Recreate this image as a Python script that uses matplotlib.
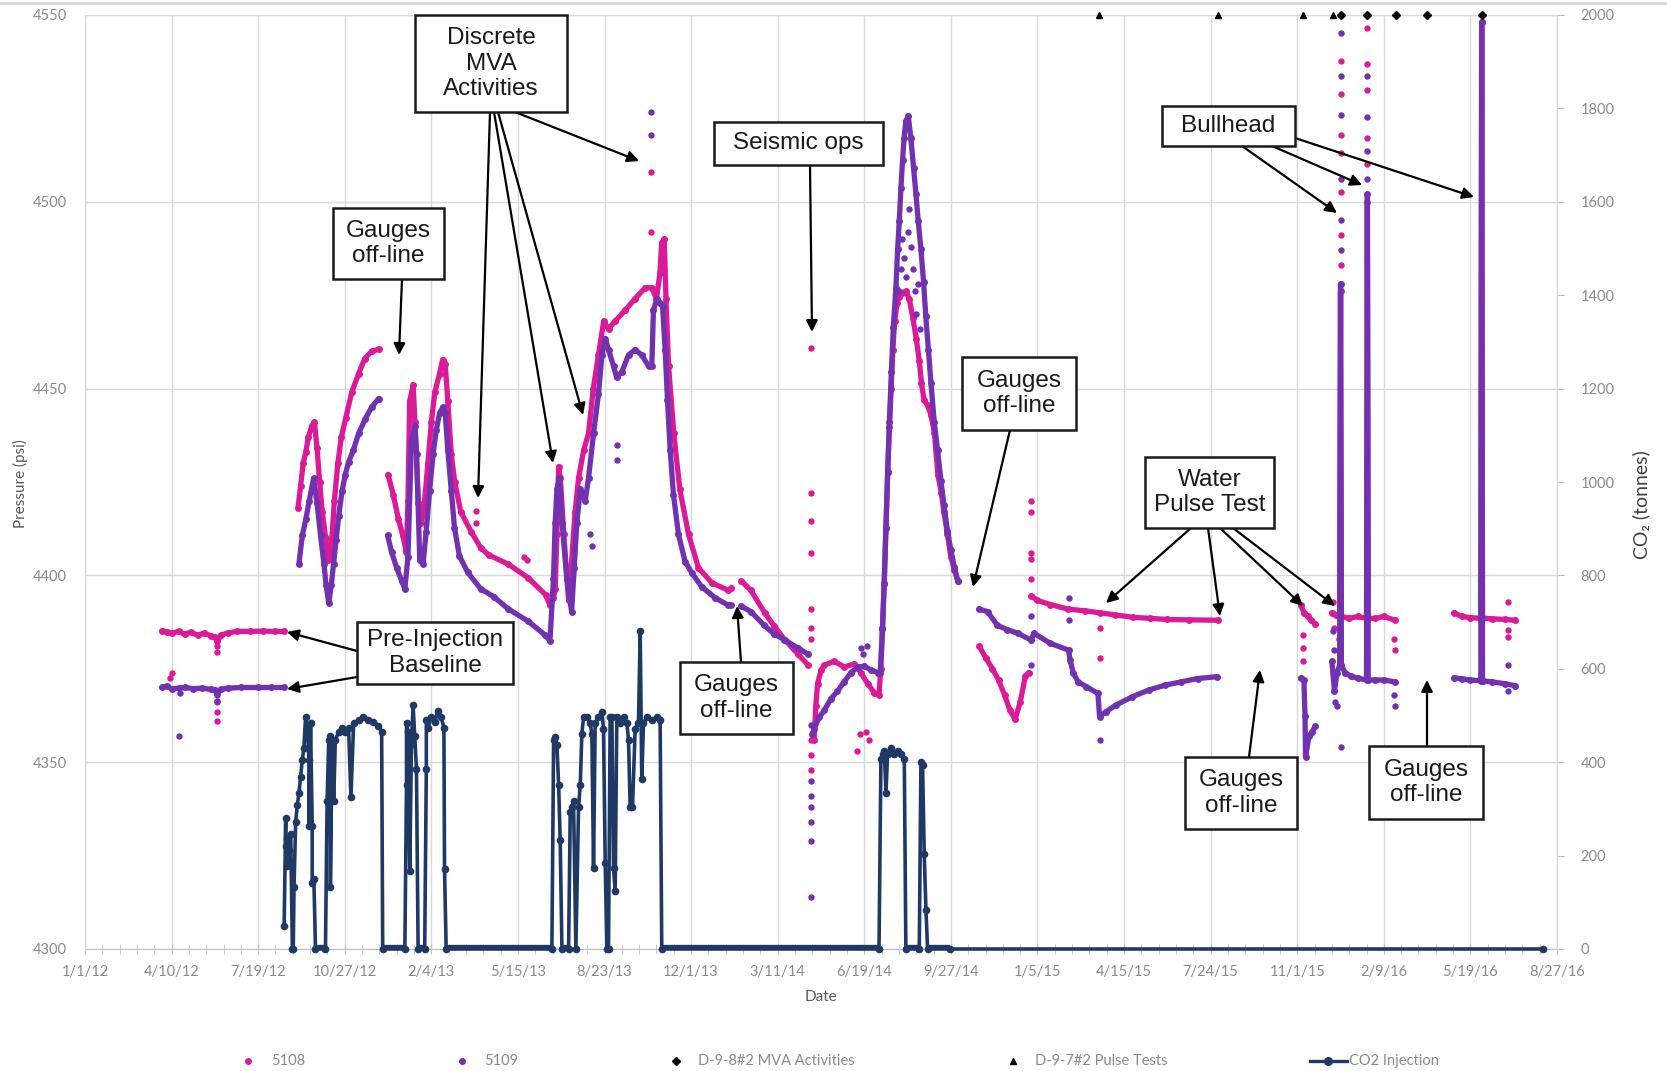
import datetime as dt
import numpy as np
import matplotlib
matplotlib.use("Agg")
import matplotlib.pyplot as plt
import matplotlib.dates as mdates
from matplotlib.patches import Rectangle, FancyArrowPatch
from matplotlib.lines import Line2D
from matplotlib.ticker import FixedLocator

nan = np.nan
START = dt.datetime(2012, 1, 1)          # day 0 of all "day" arrays below

# ---------------- data (days since 2012-01-01) ----------------
# Gauge 5108 pressure (psi); nan separates off-line gaps
P5108_DAY = [89, 95, 100, 108, 115, 122, 130, 138, 145, 150, 153, 157, 165, 175, 190, 205, 220, 230, nan,
             246, 249, 252, 255, 258, 262, 265, 268, 271, 274, 278, 281, 284, 288, 292, 296, 301, 308, 316, 323, 331, 339, nan,
             350, 356, 362, 367, 371, 373, 375, 379, 381, 385, 388.5, 392, 396, 400, 404, 409.5, 413, 416, 419, 423, 427, 434,
             446, 457, 466, 489, 512, 532, 537,
             541, 543, 545, 547, 549, 553, 558.5, 562, 566, 570, 576, 581.5, 587, 593, 599, 604.6, 612, 624, 635, 647, 654.6,
             660, 664, 666, 669, 671, 674, 680, 687, 697, 708.5, 724, 743, 746, nan,
             758, 769, 785, 796, 808, 823, 835, nan,
             842, 844, 846, 850, 854, 865, 877, 888.5, 896, 904, 911.5, 917,
             919, 921, 923, 925, 927, 929, 931, 933, 935, 938, 940, 944, 948, 952, 956, 960, 963.5, 966, 969, 973, 977, 981,
             985, 989, 992, 996, 1000, 1004, 1008, nan,
             1033, 1040, 1048, 1055, 1062, 1068, 1074, 1080, 1086, 1090, nan,
             1093, 1100, 1115, 1135, 1155, 1172, 1190, 1210, 1230, 1250, 1275, 1308, nan,
             1404, 1408, 1412, 1416, 1421, nan,
             1440, 1445, 1449, 1450, 1451, 1460, 1470, 1480, 1481, 1482, 1490, 1500, 1513, nan,
             1581, 1590, 1600, 1612, 1613, 1614, 1625, 1640, 1651]
P5108_PSI = [4385.2, 4384.8, 4384.5, 4385, 4384.3, 4384.8, 4384, 4384.6, 4383.8, 4383.5, 4382.5, 4384, 4384.6, 4385, 4385, 4385.1, 4385, 4385, nan,
             4418, 4424, 4430, 4433, 4437, 4440, 4441, 4434, 4425, 4417, 4410, 4404, 4406, 4420, 4430, 4437, 4442, 4449, 4454, 4458, 4460, 4460.5, nan,
             4427, 4421.6, 4415, 4410.7, 4406.3, 4420, 4446.7, 4451, 4441, 4419.4, 4414, 4419.4, 4430, 4441, 4449, 4454, 4457.7, 4456.6, 4446.7, 4432.5, 4425, 4417,
             4411.7, 4407.4, 4405.5, 4403, 4399.3, 4394.8, 4392,
             4394, 4396.3, 4411, 4429, 4426, 4411, 4393.3, 4403.7, 4417, 4426, 4433.6, 4438, 4450, 4459, 4468, 4466, 4468, 4471, 4474, 4477, 4477,
             4474, 4481, 4489, 4490, 4474, 4456, 4438, 4423, 4411, 4402, 4398, 4396, 4396.5, nan,
             4398.5, 4396, 4390, 4386.4, 4382.8, 4379, 4376, nan,
             4356, 4365, 4371, 4374.6, 4376, 4377, 4375.5, 4376.3, 4374, 4371, 4368.6, 4368,
             4375, 4385.6, 4398, 4412.7, 4427.6, 4439.6, 4450, 4460.4, 4468, 4473, 4474.6, 4475.7, 4476, 4474, 4469, 4463.4, 4457.5, 4451.5, 4447, 4445.5, 4443, 4438,
             4427, 4422, 4417, 4411, 4405, 4401.5, 4398.5, nan,
             4381, 4378, 4375, 4372, 4368, 4364, 4361.5, 4366, 4373, 4374, nan,
             4394.5, 4393.3, 4392.2, 4391, 4390.5, 4390, 4389.4, 4388.8, 4388.5, 4388.2, 4388.1, 4388, nan,
             4392, 4390, 4389, 4388, 4387, nan,
             4390, 4389.5, 4389, 4476, 4389, 4388.5, 4389, 4388.5, 4500, 4388.5, 4388.5, 4389, 4388, nan,
             4390, 4389, 4388.7, 4388.5, 4548, 4388.5, 4388.4, 4388.2, 4388]
# isolated 5108 readings
P5108_OUT_DAY = [98, 100, 153, 153, 153, 153, 153, 451, 451, 507, 510, 654, 654,
                 838, 838, 838, 838, 838, 838, 838, 838, 838, 838, 892, 895, 902, 905,
                 1092, 1092, 1092, 1092, 1092, 1172, 1172, 1407, 1407, 1407,
                 1450, 1450, 1450, 1450, 1450, 1450, 1450, 1481, 1481, 1481, 1481, 1481,
                 1441, 1443, 1513, 1512, 1643, 1643, 1643]
P5108_OUT_PSI = [4372.5, 4374, 4381, 4379.5, 4366, 4363.5, 4361, 4417.2, 4414, 4405, 4404, 4508, 4492,
                 4461, 4422, 4414.5, 4406, 4391, 4386, 4383, 4356, 4352, 4348, 4353, 4357.5, 4358, 4356,
                 4420, 4417, 4406, 4404.5, 4399, 4386, 4378, 4377, 4380.5, 4384,
                 4537.7, 4528.8, 4517.8, 4513, 4502.7, 4491, 4483, 4546.6, 4537, 4530, 4517, 4510,
                 4393, 4386, 4380, 4383, 4393, 4383.5, 4385.5]

# Gauge 5109 pressure (psi)
P5109_DAY = [89, 95, 100, 108, 115, 125, 135, 145, 150, 153, 157, 165, 180, 200, 215, 230, nan,
             247, 251, 255, 259, 264, 268, 272, 276, 278.4, 281.5, 284.5, 287, 290, 293, 297, 300.6, 304.4, 310, 316, 323.5, 331, 339, nan,
             349.5, 354, 360, 365.6, 369.4, 373, 377, 381, 383, 386.6, 390.4, 394, 398, 402, 405.7, 409.5, 413.3, 416, 419, 423,
             426.7, 432.4, 442, 457, 472, 489, 512, 531.5, 537,
             541, 543, 545, 547.7, 551, 556.5, 562, 565, 568, 572, 577.7, 581.5, 587.3, 593, 597, 600.8, 604.6, 610.4, 614, 620,
             627.7, 635.4, 643, 650.8, 654.6, 656.5, 660.4, 664, 667, 670, 672.7, 675.8, 679.6, 685.4, 693, 700.8, 712, 727.7, 743, 746, nan,
             757.7, 769, 784.6, 796, 807.7, 823, 834.6, nan,
             840, 842, 848, 854, 861.5, 869, 877, 884.6, 892.3, 900, 907.7, 915.4, 918.5,
             921, 923, 925, 927, 929, 931.3, 933.5, 936.5, 938.5, 940.4, 942.3, 944.2, 946, 948, 950.8, 953.8, 957, 959.6, 962.3,
             965.4, 968.5, 971, 974, 977, 980.8, 984.6, 988.5, 992, 996, 1000, 1004, 1008, nan,
             1032.7, 1042.3, 1053.8, 1065, 1077.4, 1092.5, 1096, 1115, 1135.9, 1137.7, 1141.5, 1147, 1156.6, 1169.8, 1171.7, 1179,
             1190.6, 1209.4, 1228.3, 1247, 1266, 1285, 1307.6, nan,
             1404, 1407.7, 1409, 1409.6, 1413.5, 1417.3, 1421, nan,
             1440, 1443, 1446, 1449, 1450, 1451, 1455, 1462, 1470, 1480, 1481, 1482, 1490, 1500, 1513, nan,
             1581, 1590, 1600, 1612, 1613, 1614, 1625, 1640, 1651]
P5109_PSI = [4370, 4370.4, 4369.6, 4369.8, 4370, 4369.7, 4369.8, 4369.5, 4369.4, 4368.4, 4369.5, 4369.8, 4370, 4370, 4370, 4370, nan,
             4403, 4410.7, 4415, 4420, 4426, 4419.4, 4410.7, 4403, 4397.5, 4392.6, 4397.5, 4403, 4409.6, 4416, 4422.7, 4427, 4430.3, 4433.6, 4438, 4441.8, 4445, 4447.3, nan,
             4410.7, 4406.3, 4402, 4398.6, 4396.4, 4405, 4435.8, 4440, 4432.5, 4404, 4403, 4411.7, 4422.7, 4432.5, 4439, 4443.4, 4445, 4443.4, 4433.6, 4422.7,
             4412.8, 4405.2, 4400.8, 4396.4, 4394.3, 4391, 4387.7, 4384, 4382.5,
             4399, 4414, 4423, 4426, 4414, 4399, 4390.3, 4402, 4414, 4423, 4420, 4426, 4438, 4448.5, 4459, 4463.4, 4460.4, 4456, 4453, 4454.5,
             4459, 4460.4, 4459, 4456, 4456, 4471, 4474, 4473, 4472, 4460.4, 4447, 4433.6, 4421.6, 4411, 4403.7, 4400.7, 4397, 4394, 4392, 4392, nan,
             4391.8, 4390.3, 4386.6, 4384.3, 4382.8, 4380.6, 4379, nan,
             4357.5, 4359, 4362, 4364, 4367, 4369, 4371.6, 4374, 4375.4, 4375.7, 4374.7, 4374, 4374,
             4385.8, 4397.8, 4412.7, 4427.6, 4441, 4454.5, 4466.4, 4476.9, 4487.3, 4494.8, 4503.7, 4511.2, 4517.2, 4521.6, 4523, 4517, 4509, 4502.2, 4494.8,
             4487.3, 4478.4, 4469.4, 4460.4, 4451.5, 4441, 4433.6, 4425.4, 4418.8, 4412, 4406.7, 4402.2, 4398.5, nan,
             4391, 4390.3, 4386.6, 4385.5, 4384.5, 4382.7, 4384.5, 4381.8, 4380, 4377.3, 4373.8, 4371.5, 4370.2, 4368.4, 4362.2, 4363.5,
             4365.3, 4367.5, 4369.3, 4370.6, 4371.5, 4372.4, 4372.9, nan,
             4372.5, 4372, 4362.3, 4351.4, 4357, 4358.2, 4359.6, nan,
             4377, 4369, 4374, 4376, 4478, 4376, 4374, 4373, 4372.5, 4372, 4502, 4372, 4372, 4372, 4371.5, nan,
             4372.6, 4372.3, 4372, 4371.8, 4548, 4371.8, 4371.5, 4371, 4370.5]
P5109_OUT_DAY = [108.8, 109.5, 153, 153, 583, 585, 614, 614, 654, 654,
                 838, 838, 838, 838, 838, 838, 838, 896, 899, 903,
                 940, 942, 944, 946, 948, 950, 952, 954, 956, 958, 960, 962, 964,
                 1092, 1092, 1136, 1136, 1172,
                 1450, 1450, 1450, 1450, 1450, 1450, 1481, 1481, 1481, 1481,
                 1441, 1442, 1444, 1446, 1448, 1451, 1512, 1513, 1643, 1643]
P5109_OUT_PSI = [4356.9, 4368.6, 4368, 4366.5, 4411, 4408, 4435, 4431, 4524, 4518,
                 4360, 4345, 4341, 4338, 4334, 4329, 4314, 4380.5, 4379, 4381,
                 4476, 4482, 4490, 4485, 4480, 4492, 4498, 4488, 4482, 4476, 4470, 4478, 4466,
                 4389, 4376, 4394, 4388, 4356,
                 4545.2, 4533.6, 4523.3, 4506.2, 4495.2, 4487, 4533.6, 4522.6, 4513.7, 4506,
                 4385, 4380, 4366, 4365, 4383, 4354, 4368, 4365, 4376, 4369]

# CO2 injection (tonnes)
CO2_DAY = [230, 231.8, 231.8, 233.7, 233.7, 235.6, 237.6, 239.5, 240.5, 241.4, 243.3, 245.2, 247.1, 249, 250.9, 252.8,
           254.7, 256.7, 258.6, 258.6, 260.5, 262.4, 262.4, 264.3, 266.2, 277.7, 279.6, 281.5, 283.4, 283.4, 285.3,
           287.2, 289.1, 293, 296.8, 300.6, 304.4, 307.1, 310.2, 315.9, 321.6, 327.4, 333.1, 338.8, 342.6, 343.8,
           369.4, 371.3, 371.3, 373.2, 375.1, 377, 378.9, 380.8, 382.8, 384.7, 392.3, 394.2, 394.2, 396.1, 399.9,
           403.8, 407.6, 411.4, 414.5, 415.2, 417.1, 539.2, 541.2, 543.1, 545, 547, 548.8, 550.8, 558.5, 560.4,
           562.3, 564.2, 566.9, 570, 572, 573.8, 575.8, 579.6, 583.5, 585.4, 587.3, 589.2, 593, 597, 598.8, 600.8,
           602.7, 604.6, 606.5, 608.5, 610.4, 612.3, 614.2, 618, 622, 625.8, 627.7, 629.6, 632.3, 635.4, 639.2,
           641.2, 643, 645, 648.8, 654.6, 660.4, 664.2, 666.1, 917, 919.2, 921.2, 923.1, 925, 926.9, 930.8, 934.6,
           938.5, 942.3, 946.2, 948, 963.5, 965.4, 967.3, 969.2, 971.2, 973.1, 999, 1684]
CO2_T = [50, 281, 220, 238, 177, 212, 246, 0, 0, 133, 273, 308, 334, 369, 404, 430,
         496, 474, 404, 264, 483, 264, 142, 150, 0, 0, 316, 448, 456, 133, 448,
         316, 448, 465, 474, 465, 474, 325, 483, 491, 496, 491, 487, 478, 465, 0,
         0, 351, 483, 465, 168, 439, 522, 456, 386, 0, 0, 386, 491, 474, 496,
         487, 509, 496, 474, 172, 0, 0, 448, 454, 436, 352, 233, 0, 0, 293,
         304, 316, 0, 304, 352, 460, 496, 496, 484, 460, 173, 484, 496, 507, 472, 185,
         0, 0, 496, 496, 173, 125, 496, 484, 496, 484, 448, 304, 304, 472, 484,
         681, 364, 484, 496, 490, 496, 490, 0, 0, 406, 418, 424, 334, 418, 430, 418,
         424, 418, 406, 0, 0, 400, 394, 203, 84, 0, 0, 0]
# periods of daily zero injection (start day, end day)
CO2_ZERO_START = [239.5, 266.2, 343.8, 384.7, 417.1, 550.8, 602.7, 666.1, 948, 973.1]
CO2_ZERO_END = [240.5, 277.7, 369.4, 392.3, 539.2, 558.5, 604.6, 917, 963.5, 999]

# event markers (days)
MVA_DAYS = [1450, 1481, 1514, 1550, 1613]
PULSE_DAYS = [1171, 1309, 1407, 1441]

# axis ticks
X_TICK_DAYS = list(range(0, 1701, 100))
X_MINOR_DAYS = list(range(0, 1701, 20))
Y_TICKS = [4300, 4350, 4400, 4450, 4500, 4550]
Y2_TICKS = list(range(0, 2001, 200))

# annotations: (text, box in px [x0, y0, x1, y1], list of arrows ((xs,ys),(xe,ye)) in px)
ANNOTATIONS = [
    ("Discrete\nMVA\nActivities", (415, 15, 567, 112),
     [((490, 112), (478, 498)), ((494, 112), (553, 463)), ((498, 112), (583, 415)), ((515, 112), (639, 161))]),
    ("Gauges\noff-line", (333, 208, 444, 279), [((402, 279), (399, 355))]),
    ("Seismic ops", (714, 122, 883, 165), [((810, 165), (812, 332))]),
    ("Pre-Injection\nBaseline", (357, 622, 513, 684), [((357, 651), (287, 632)), ((357, 677), (287, 689))]),
    ("Gauges\noff-line", (680, 662, 793, 734), [((741, 662), (737, 606))]),
    ("Gauges\noff-line", (962, 357, 1076, 430), [((1010, 430), (973, 587))]),
    ("Water\nPulse Test", (1145, 457, 1274, 528),
     [((1191, 528), (1106, 603)), ((1208, 528), (1220, 616)), ((1220, 528), (1303, 606)), ((1233, 528), (1335, 606))]),
    ("Gauges\noff-line", (1185, 757, 1297, 829), [((1249, 757), (1260, 670))]),
    ("Gauges\noff-line", (1369, 746, 1483, 819), [((1427, 746), (1427, 680))]),
    ("Bullhead", (1162, 106, 1295, 146),
     [((1242, 146), (1337, 213)), ((1272, 146), (1362, 185)), ((1295, 138), (1474, 197))]),
]

# ---------------- styling ----------------
C5108 = "#DB1A98"
C5109 = "#7232B0"
NAVY = "#1F3864"
GRID = "#D9D9D9"
TICKC = "#8A8A8A"
W, H = 1667, 1071

plt.rcParams["font.family"] = ["Lato", "DejaVu Sans"]

fig = plt.figure(figsize=(W / 100, H / 100), dpi=100)
ax = fig.add_axes([85 / W, 1 - 949 / H, (1557 - 85) / W, (949 - 15) / H])
ax2 = ax.twinx()

base = mdates.date2num(START)
xd = lambda d: base + np.asarray(d, dtype=float)

ax.set_xlim(base, base + 1700)
ax.set_ylim(4300, 4550)
ax2.set_ylim(0, 2000)

ax.xaxis.set_major_locator(FixedLocator(list(xd(X_TICK_DAYS))))
ax.xaxis.set_minor_locator(FixedLocator(list(xd(X_MINOR_DAYS))))
ax.xaxis.set_major_formatter(mdates.DateFormatter("%-m/%-d/%y"))
ax.set_yticks(Y_TICKS)
ax2.set_yticks(Y2_TICKS)

ax.grid(True, which="major", color=GRID, lw=1.0)
ax.set_axisbelow(True)
for s in ["left", "top", "right"]:
    ax.spines[s].set_color(GRID)
    ax2.spines[s].set_color(GRID)
ax.spines["bottom"].set_color("#BFBFBF")
ax2.spines["bottom"].set_visible(False)

ax.tick_params(axis="y", length=0, pad=13, labelsize=10.5, labelcolor=TICKC)
ax.tick_params(axis="x", which="both", direction="inout", length=7, color="#BFBFBF",
               pad=8, labelsize=10.5, labelcolor=TICKC)
ax2.tick_params(axis="y", length=5, color="#BFBFBF", direction="out", pad=12,
                labelsize=10.5, labelcolor=TICKC)

# pressure series
ax.plot(xd(P5108_DAY), P5108_PSI, "-", color=C5108, lw=3.8, marker="o", ms=5, mew=0, zorder=3,
        solid_capstyle="round", solid_joinstyle="round")
ax.plot(xd(P5108_OUT_DAY), P5108_OUT_PSI, "o", color=C5108, ms=4.6, mew=0, ls="none", zorder=3)
ax.plot(xd(P5109_DAY), P5109_PSI, "-", color=C5109, lw=3.8, marker="o", ms=5, mew=0, zorder=4,
        solid_capstyle="round", solid_joinstyle="round")
ax.plot(xd(P5109_OUT_DAY), P5109_OUT_PSI, "o", color=C5109, ms=4.6, mew=0, ls="none", zorder=4)

# CO2 injection
ax2.hlines([0] * len(CO2_ZERO_START), xd(CO2_ZERO_START), xd(CO2_ZERO_END), color=NAVY, lw=6, zorder=3)
ax2.plot(xd(CO2_DAY), CO2_T, "-", color=NAVY, lw=2.6, marker="o", ms=5.5, mew=0, zorder=3, clip_on=False)

# event markers along the top
ax2.plot(xd(MVA_DAYS), [2000] * len(MVA_DAYS), "D", color="black", ms=4, ls="none", clip_on=False, zorder=6)
ax2.plot(xd(PULSE_DAYS), [2000] * len(PULSE_DAYS), "^", color="black", ms=5, ls="none", clip_on=False, zorder=6)

# axis titles
fig.text(20 / W, 1 - 484 / H, "Pressure (psi)", rotation=90, ha="center", va="center",
         fontsize=11, color="#595959")
fig.text(821 / W, 1 - 997 / H, "Date", ha="center", va="center", fontsize=11, color="#595959")
fig.text(1641 / W, 1 - 505 / H, "CO\u2082 (tonnes)", rotation=90, ha="center", va="center",
         fontsize=14, color="#404040")

# annotation boxes and arrows (figure pixel layout)
fx = lambda x: x / W
fy = lambda y: 1 - y / H
for text, (x0, y0, x1, y1), arrows in ANNOTATIONS:
    for (xs, ys), (xe, ye) in arrows:
        fig.add_artist(FancyArrowPatch((fx(xs), fy(ys)), (fx(xe), fy(ye)), transform=fig.transFigure,
                                       arrowstyle="-|>", mutation_scale=17, color="black", lw=1.6,
                                       shrinkA=0, shrinkB=0, zorder=5))
    fig.add_artist(Rectangle((fx(x0), fy(y1)), fx(x1) - fx(x0), fy(y0) - fy(y1), transform=fig.transFigure,
                             facecolor="white", edgecolor="#1a1a1a", lw=1.8, zorder=6))
    fig.text(fx((x0 + x1) / 2), fy((y0 + y1) / 2), text, ha="center", va="center", fontsize=17.5,
             family=["Liberation Sans", "DejaVu Sans"], color="#1a1a1a", linespacing=1.22, zorder=7)

# legend (manual, bottom row)
ly = fy(1061)
leg = [("o", C5108, 248, 271, "5108"), ("o", C5109, 462, 484, "5109"),
       ("D", "black", 676, 698, "D-9-8#2 MVA Activities"), ("^", "black", 1013, 1035, "D-9-7#2 Pulse Tests")]
for m, c, mx, tx, lab in leg:
    fig.add_artist(Line2D([fx(mx)], [ly], marker=m, color=c, ms=4 if m != "^" else 5, ls="none",
                          transform=fig.transFigure))
    fig.text(fx(tx), ly, lab, ha="left", va="center", fontsize=10.5, color=TICKC)
fig.add_artist(Line2D([fx(1310), fx(1347)], [ly, ly], color=NAVY, lw=2.4, transform=fig.transFigure))
fig.add_artist(Line2D([fx(1328)], [ly], marker="o", color=NAVY, ms=5.5, transform=fig.transFigure))
fig.text(fx(1349), ly, "CO2 Injection", ha="left", va="center", fontsize=10.5, color=TICKC)

# thin frame line at the very top of the image
fig.add_artist(Line2D([0, 1], [fy(3), fy(3)], color="#D6D6D6", lw=2, transform=fig.transFigure))

fig.savefig("out.png", dpi=100)
